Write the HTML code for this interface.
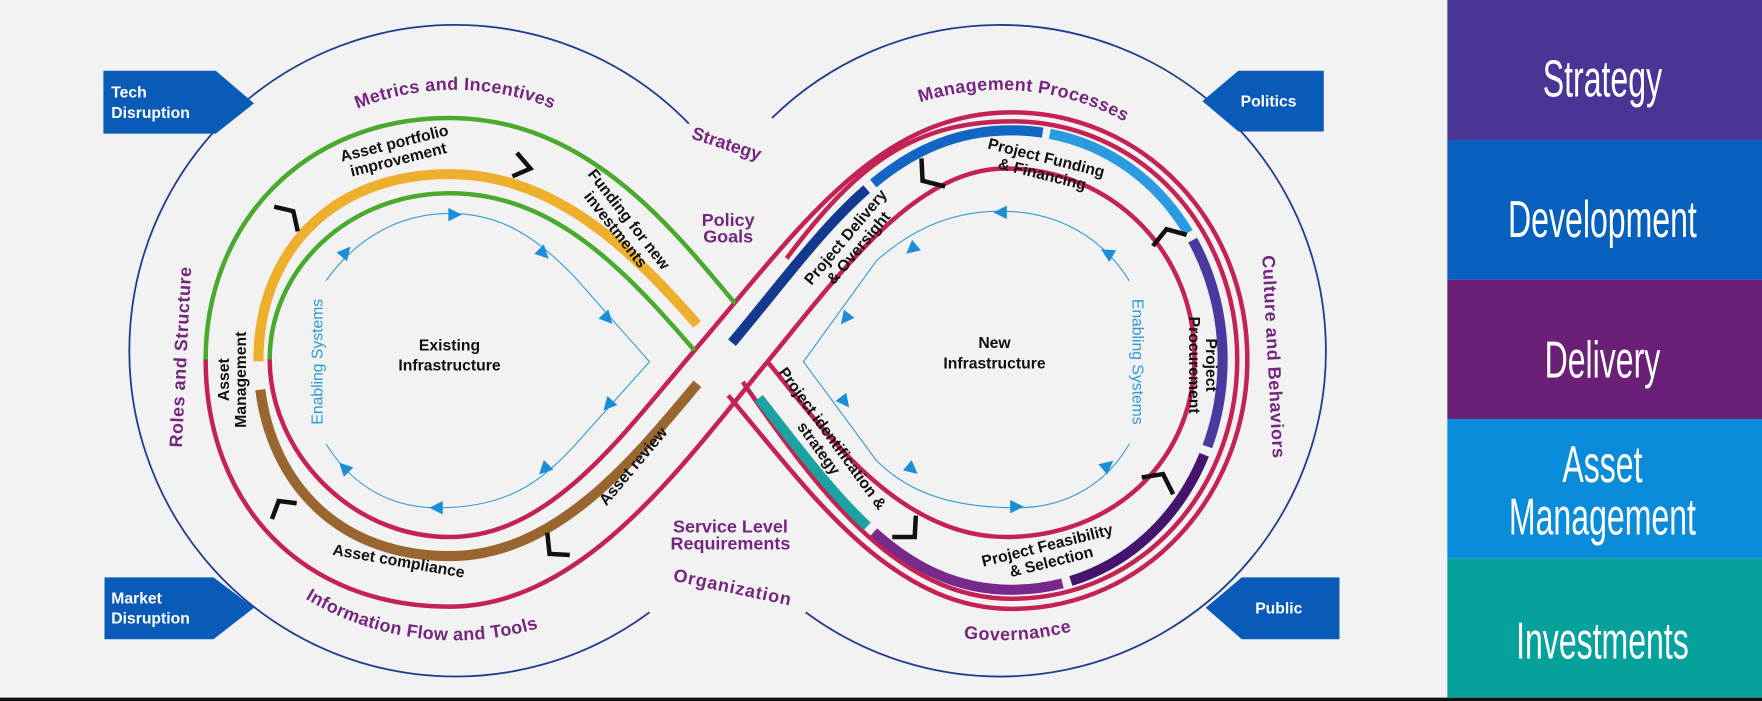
<!DOCTYPE html>
<html><head><meta charset="utf-8"><style>
html,body{margin:0;padding:0;background:#f2f2f2;}
svg{display:block;}
.p{font-family:"Liberation Sans",sans-serif;font-weight:bold;fill:#74267f;font-size:16px;}
.b{font-family:"Liberation Sans",sans-serif;font-weight:bold;fill:#111;font-size:14px;}
.w{font-family:"Liberation Sans",sans-serif;font-weight:bold;fill:#fff;font-size:14px;}
.e{font-family:"Liberation Sans",sans-serif;fill:#2a9ad6;font-size:14px;}
.r{font-family:"Liberation Sans Narrow","Liberation Sans",sans-serif;fill:#fff;font-size:46px;font-weight:normal;}
</style></head><body>
<svg width="1762" height="701" viewBox="0 0 1568 624" preserveAspectRatio="none" xmlns="http://www.w3.org/2000/svg">
<rect x="0" y="0" width="1568" height="624" fill="#f2f2f2"/>
<rect x="0" y="621" width="1568" height="3" fill="#111"/>
<rect x="1288" y="0" width="280" height="125" fill="#4a3597"/>
<rect x="1288" y="125" width="280" height="124" fill="#0760bd"/>
<rect x="1288" y="249" width="280" height="124" fill="#6a2077"/>
<rect x="1288" y="373" width="280" height="124" fill="#0a8cdb"/>
<rect x="1288" y="497" width="280" height="124" fill="#07a19c"/>
<g class="r" text-anchor="middle">
<text transform="translate(1426,86) scale(0.62,1)">Strategy</text>
<text transform="translate(1426,211) scale(0.62,1)">Development</text>
<text transform="translate(1426,336) scale(0.62,1)">Delivery</text>
<text transform="translate(1426,429) scale(0.62,1)">Asset</text>
<text transform="translate(1426,476) scale(0.62,1)">Management</text>
<text transform="translate(1426,586) scale(0.62,1)">Investments</text>
</g>
<path d="M613,110 A290,290 0 1 0 578,545" fill="none" stroke="#1f3d8c" stroke-width="1.6"/>
<path d="M687,105 A290,290 0 1 1 717,545" fill="none" stroke="#1f3d8c" stroke-width="1.6"/>
<polygon points="92,63 192,63 226,92 192,119 92,119" fill="#0a5ab8"/>
<polygon points="93,514 190,514 226,541 190,569 93,569" fill="#0a5ab8"/>
<polygon points="1070,90 1102,63 1178,63 1178,117 1102,117" fill="#0a5ab8"/>
<polygon points="1073,541 1105,514 1192,514 1192,569 1105,569" fill="#0a5ab8"/>
<text class="w" x="99" y="87">Tech</text><text class="w" x="99" y="105">Disruption</text>
<text class="w" x="99" y="537">Market</text><text class="w" x="99" y="555">Disruption</text>
<text class="w" x="1104" y="95">Politics</text>
<text class="w" x="1117" y="546">Public</text>

<g fill="none" stroke="#c42253" stroke-width="4">
<path d="M400,478 C490,478 553,388 618,312 C709,206 780,100 900,100 C1020,100 1110,200 1110,320 C1110,440 1020,542 900,542 C790,542 715,430 648,352"/>
<path d="M240,320 C240,400 310,478 400,478"/>
<path d="M400,540 C520,540 610,410 683,322 C750,240 815,150 895,150 C990,150 1063,225 1063,318 C1063,410 990,478 895,478 C800,478 735,385 683,322"/>
<path d="M183,320 C183,450 270,540 400,540"/>
<path d="M700,230 C760,150 810,108 900,108 C1015,108 1101,203 1101,320 C1101,437 1015,533 900,533 C800,533 730,440 661,340"/>
</g>
<g fill="none" stroke="#4aaa2e" stroke-width="4">
<path d="M654,270 C596,200 520,105 400,105 C270,105 183,200 183,320"/>
<path d="M618,312 C553,236 490,172 400,172 C310,172 240,240 240,320"/>
</g>
<g fill="none" stroke-width="9">
<path d="M643,315 C728,216 785,116 900,116 C1010,116 1088,210 1088,320 C1088,430 1010,525 900,525 C785,525 728,414 643,315" pathLength="100" stroke="#143a8f" stroke-dasharray="0 1 14 200"/>
<path d="M643,315 C728,216 785,116 900,116 C1010,116 1088,210 1088,320 C1088,430 1010,525 900,525 C785,525 728,414 643,315" pathLength="100" stroke="#1466c4" stroke-dasharray="0 15.6 12.5 200"/>
<path d="M643,315 C728,216 785,116 900,116 C1010,116 1088,210 1088,320 C1088,430 1010,525 900,525 C785,525 728,414 643,315" pathLength="100" stroke="#2a9be0" stroke-dasharray="0 28.6 12 200"/>
<path d="M643,315 C728,216 785,116 900,116 C1010,116 1088,210 1088,320 C1088,430 1010,525 900,525 C785,525 728,414 643,315" pathLength="100" stroke="#4a3aa0" stroke-dasharray="0 41.2 14.6 200"/>
<path d="M643,315 C728,216 785,116 900,116 C1010,116 1088,210 1088,320 C1088,430 1010,525 900,525 C785,525 728,414 643,315" pathLength="100" stroke="#45156e" stroke-dasharray="0 56.4 13 200"/>
<path d="M643,315 C728,216 785,116 900,116 C1010,116 1088,210 1088,320 C1088,430 1010,525 900,525 C785,525 728,414 643,315" pathLength="100" stroke="#782a8c" stroke-dasharray="0 70 14 200"/>
<path d="M643,315 C728,216 785,116 900,116 C1010,116 1088,210 1088,320 C1088,430 1010,525 900,525 C785,525 728,414 643,315" pathLength="100" stroke="#1aa3a0" stroke-dasharray="0 84.6 11.5 200"/>
<path d="M643,315 C578,239 505,155 400,155 C290,155 230,230 230,320 C230,415 290,495 400,495 C505,495 578,391 643,315" pathLength="100" stroke="#eeb02c" stroke-dasharray="0 3 46.3 200"/>
<path d="M643,315 C578,239 505,155 400,155 C290,155 230,230 230,320 C230,415 290,495 400,495 C505,495 578,391 643,315" pathLength="100" stroke="#9a6630" stroke-dasharray="0 51.5 45.5 200"/>
</g>
<g fill="none" stroke="#111" stroke-width="4">
<polyline points="244,184 261,188 265,206"/>
<polyline points="460,136 472,150 456,157"/>
<polyline points="487,474 489,493 507,494"/>
<polyline points="242,462 248,446 264,448"/>
<polyline points="820,141 821,161 841,166"/>
<polyline points="1026,219 1038,204 1056,209"/>
<polyline points="1016,425 1035,422 1044,440"/>
<polyline points="794,478 814,478 815,459"/>
</g>
<g fill="none" stroke="#3a9ad6" stroke-width="1">
<path d="M290,250 C320,208 360,190 400,190 C450,190 480,215 510,245 L578,322 L510,398 C480,430 450,452 390,452 C350,452 315,435 290,395"/>
<path d="M1005,250 C980,210 940,188 890,188 C840,188 805,210 780,232 L715,322 L780,410 C810,440 850,452 905,452 C950,452 985,430 1005,395"/>
</g>
<g fill="#1a8fd8">
<polygon points="-6,-6 6,0 -6,6" transform="translate(405,191)"/>
<polygon points="-6,-6 6,0 -6,6" transform="translate(484,226) rotate(45)"/>
<polygon points="-6,-6 6,0 -6,6" transform="translate(541,284) rotate(48)"/>
<polygon points="-6,-6 6,0 -6,6" transform="translate(541,361) rotate(132)"/>
<polygon points="-6,-6 6,0 -6,6" transform="translate(484,418) rotate(135)"/>
<polygon points="-6,-6 6,0 -6,6" transform="translate(388,452) rotate(180)"/>
<polygon points="-6,-6 6,0 -6,6" transform="translate(306,416) rotate(225)"/>
<polygon points="-6,-6 6,0 -6,6" transform="translate(308,224) rotate(-50)"/>
<polygon points="-6,-6 6,0 -6,6" transform="translate(890,189) rotate(180)"/>
<polygon points="-6,-6 6,0 -6,6" transform="translate(985,225) rotate(210)"/>
<polygon points="-6,-6 6,0 -6,6" transform="translate(811,222) rotate(140)"/>
<polygon points="-6,-6 6,0 -6,6" transform="translate(752,284) rotate(128)"/>
<polygon points="-6,-6 6,0 -6,6" transform="translate(752,358) rotate(52)"/>
<polygon points="-6,-6 6,0 -6,6" transform="translate(812,418) rotate(40)"/>
<polygon points="-6,-6 6,0 -6,6" transform="translate(905,451)"/>
<polygon points="-6,-6 6,0 -6,6" transform="translate(986,414) rotate(-40)"/>
</g>
<text class="e" transform="translate(287,322) rotate(-90)" text-anchor="middle">Enabling  Systems</text>
<text class="e" transform="translate(1008,322) rotate(90)" text-anchor="middle">Enabling  Systems</text>

<defs>
<path id="arcL" d="M173,312 A232,232 0 0 1 637,312"/>
<path id="arcR" d="M658,312 A232,232 0 0 1 1122,312"/>
<path id="arcLB" d="M147,312 A258,258 0 0 0 663,312"/>
<path id="arcRB" d="M632,312 A256,256 0 0 0 1148,312"/>
</defs>
<text class="p" letter-spacing="0.3"><textPath href="#arcL" startOffset="50%" text-anchor="middle">Metrics and Incentives</textPath></text>
<text class="p" letter-spacing="0.3"><textPath href="#arcR" startOffset="53%" text-anchor="middle">Management Processes</textPath></text>
<text class="p" letter-spacing="0.3"><textPath href="#arcLB" startOffset="46%" text-anchor="middle">Information Flow and Tools</textPath></text>
<text class="p" letter-spacing="0.5"><textPath href="#arcRB" startOffset="52%" text-anchor="middle">Governance</textPath></text>
<text class="p" transform="translate(645,133) rotate(18)" text-anchor="middle">Strategy</text>
<text class="p" transform="translate(166,318) rotate(-87)" text-anchor="middle" letter-spacing="0.5">Roles and Structure</text>
<text class="p" transform="translate(1128,318) rotate(87)" text-anchor="middle" letter-spacing="0.5">Culture and Behaviors</text>
<text class="p" x="648" y="201" text-anchor="middle">Policy</text>
<text class="p" x="648" y="216" text-anchor="middle">Goals</text>
<text class="p" x="650" y="474" text-anchor="middle">Service Level</text>
<text class="p" x="650" y="489" text-anchor="middle">Requirements</text>
<text class="p" transform="translate(651,528) rotate(12)" text-anchor="middle" letter-spacing="0.8">Organization</text>

<g class="b" text-anchor="middle">
<text transform="translate(352,132) rotate(-14)"><tspan x="0" y="0">Asset portfolio</tspan><tspan x="0" y="15">improvement</tspan></text>
<text transform="translate(556,198) rotate(52)"><tspan x="0" y="0">Funding for new</tspan><tspan x="0" y="15">investments</tspan></text>
<text transform="translate(204,338) rotate(-90)"><tspan x="0" y="0">Asset</tspan><tspan x="0" y="15">Management</tspan></text>
<text x="400" y="312">Existing</text><text x="400" y="330">Infrastructure</text>
<text transform="translate(567,418) rotate(-50)">Asset review</text>
<text transform="translate(354,504) rotate(10)">Asset compliance</text>
<text transform="translate(756,214) rotate(-50)"><tspan x="0" y="0">Project Delivery</tspan><tspan x="0" y="15">&amp; Oversight</tspan></text>
<text transform="translate(930,145) rotate(14)"><tspan x="0" y="0">Project Funding</tspan><tspan x="0" y="15">&amp; Financing</tspan></text>
<text transform="translate(1073,325) rotate(90)"><tspan x="0" y="0">Project</tspan><tspan x="0" y="15">Procurement</tspan></text>
<text x="885" y="310">New</text><text x="885" y="328">Infrastructure</text>
<text transform="translate(737,393) rotate(54)"><tspan x="0" y="0">Project identification &amp;</tspan><tspan x="0" y="15">strategy</tspan></text>
<text transform="translate(933,490) rotate(-14)"><tspan x="0" y="0">Project Feasibility</tspan><tspan x="0" y="15">&amp; Selection</tspan></text>
</g>
</svg>
</body></html>
